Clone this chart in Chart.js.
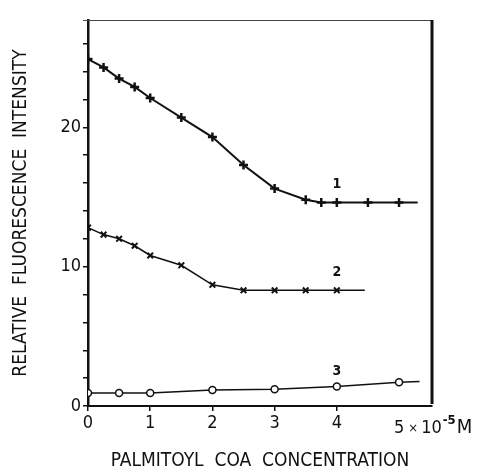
<!DOCTYPE html>
<html>
<head>
<meta charset="utf-8">
<script src="https://cdn.jsdelivr.net/npm/chart.js@4"></script>
<style>
    html, body { margin: 0; padding: 0; background: #fff; }
</style>
</head>
<body>
<canvas id="fluorescence-chart" width="481" height="471"></canvas>
<script>
// palmitoyl CoA concentration (x 10^-5 M) and relative fluorescence
// last entry of each curve is where the drawn line stops (no marker there)
const conc1 = [0, 0.25, 0.5, 0.75, 1, 1.5, 2, 2.5, 3, 3.5, 3.75, 4, 4.5, 5, 5.3];
const intensity1 = [24.9, 24.3, 23.5, 22.9, 22.1, 20.7, 19.3, 17.3, 15.6, 14.8, 14.6, 14.6, 14.6, 14.6, 14.6];

const conc2 = [0, 0.25, 0.5, 0.75, 1, 1.5, 2, 2.5, 3, 3.5, 4, 4.45];
const intensity2 = [12.8, 12.3, 12.0, 11.5, 10.8, 10.1, 8.7, 8.3, 8.3, 8.3, 8.3, 8.3];

const conc3 = [0, 0.5, 1, 2, 3, 4, 5, 5.33];
const intensity3 = [0.93, 0.93, 0.93, 1.15, 1.2, 1.4, 1.7, 1.75];

const curveLabels = ['1', '2', '3'];
const curveLabelX = [4, 4, 4];
const curveLabelY = [15.9, 9.6, 2.5];

const xTickLabels = [0, 1, 2, 3, 4];
const yTickLabels = [0, 10, 20];

const FONT = "'DejaVu Sans Condensed', 'DejaVu Sans', sans-serif";
const INK = '#111';

function toPoints(xs, ys) {
    return xs.map(function (x, i) { return { x: x, y: ys[i] }; });
}

// no marker on the last point (line end)
function radiusFor(r) {
    return function (ctx) {
        return ctx.dataIndex === ctx.dataset.data.length - 1 ? 0 : r;
    };
}

const frame = {
    id: 'frame',
    afterDraw: function (chart) {
        const a = chart.chartArea;
        const ctx = chart.ctx;
        ctx.save();
        ctx.strokeStyle = '#444';
        ctx.lineWidth = 1;
        ctx.beginPath();
        ctx.moveTo(a.left - 5, a.top + 0.5);
        ctx.lineTo(a.right, a.top + 0.5);
        ctx.stroke();
        ctx.strokeStyle = INK;
        ctx.lineWidth = 3;
        ctx.beginPath();
        ctx.moveTo(a.right, a.top);
        ctx.lineTo(a.right, a.bottom - 2);
        ctx.stroke();

        // curve numbers
        const xs = chart.scales.x, ys = chart.scales.y;
        ctx.fillStyle = INK;
        ctx.font = 'bold 14px ' + FONT;
        ctx.textAlign = 'center';
        ctx.textBaseline = 'middle';
        curveLabels.forEach(function (t, i) {
            ctx.fillText(t, xs.getPixelForValue(curveLabelX[i]), ys.getPixelForValue(curveLabelY[i]));
        });

        // unit label at x = 5
        const x5 = xs.getPixelForValue(5) - 5;
        const yb = a.bottom + 22;
        ctx.textAlign = 'left';
        ctx.font = '18px ' + FONT;
        ctx.fillText('5', x5, yb);
        let w = ctx.measureText('5').width + 4;
        ctx.font = '13px ' + FONT;
        ctx.fillText('×', x5 + w, yb + 1);
        w += ctx.measureText('×').width + 3;
        ctx.font = '18px ' + FONT;
        ctx.fillText('10', x5 + w, yb);
        w += ctx.measureText('10').width + 1;
        ctx.font = 'bold 13px ' + FONT;
        ctx.fillText('-5', x5 + w, yb - 7);
        w += ctx.measureText('-5').width + 1;
        ctx.font = '20px ' + FONT;
        ctx.fillText('M', x5 + w, yb);
        ctx.restore();
    }
};

new Chart(document.getElementById('fluorescence-chart').getContext('2d'), {
    type: 'line',
    data: {
        datasets: [{
            data: toPoints(conc1, intensity1),
            borderColor: INK,
            backgroundColor: INK,
            borderWidth: 2,
            pointStyle: 'cross',
            pointRadius: radiusFor(4.5),
            pointBorderWidth: 2.5,
            tension: 0
        }, {
            data: toPoints(conc2, intensity2),
            borderColor: INK,
            backgroundColor: INK,
            borderWidth: 1.5,
            pointStyle: 'crossRot',
            pointRadius: radiusFor(4),
            pointBorderWidth: 2,
            tension: 0
        }, {
            data: toPoints(conc3, intensity3),
            borderColor: INK,
            backgroundColor: '#fff',
            borderWidth: 1.5,
            pointStyle: 'circle',
            pointRadius: radiusFor(3.5),
            pointBorderWidth: 1.5,
            tension: 0
        }]
    },
    options: {
        responsive: false,
        animation: false,
        layout: { padding: { top: 20, right: 49, left: 0, bottom: 0 } },
        plugins: {
            legend: { display: false },
            tooltip: { enabled: false }
        },
        scales: {
            x: {
                type: 'linear',
                min: 0,
                max: 5.53,
                afterFit: function (s) { s.height = 65; },
                afterBuildTicks: function (s) {
                    s.ticks = xTickLabels.map(function (v) { return { value: v }; });
                },
                ticks: {
                    color: INK,
                    font: { family: FONT, size: 18 },
                    padding: 2,
                    maxRotation: 0,
                    callback: function (v) { return v; }
                },
                grid: { drawOnChartArea: false, drawTicks: true, tickLength: 5, color: INK, lineWidth: 1.5 },
                border: { display: true, color: INK, width: 2 },
                title: {
                    display: true,
                    text: 'PALMITOYL  COA  CONCENTRATION',
                    color: INK,
                    font: { family: FONT, size: 19, lineHeight: 1 },
                    padding: { top: 0, bottom: 0 }
                }
            },
            y: {
                type: 'linear',
                min: 0,
                max: 27.7,
                afterFit: function (s) { s.width = 88; },
                afterBuildTicks: function (s) {
                    const t = [];
                    for (let v = 0; v <= 26; v += 2) t.push({ value: v });
                    s.ticks = t;
                },
                ticks: {
                    color: INK,
                    font: { family: FONT, size: 18 },
                    padding: 2,
                    callback: function (v) { return yTickLabels.indexOf(v) >= 0 ? v : ''; }
                },
                grid: { drawOnChartArea: false, drawTicks: true, tickLength: 5, color: INK, lineWidth: 1.5 },
                border: { display: true, color: INK, width: 2.5 },
                title: {
                    display: true,
                    text: 'RELATIVE  FLUORESCENCE  INTENSITY',
                    color: INK,
                    font: { family: FONT, size: 19, lineHeight: 1 },
                    padding: { top: 12, bottom: 0 }
                }
            }
        }
    },
    plugins: [frame]
});
</script>
</body>
</html>
